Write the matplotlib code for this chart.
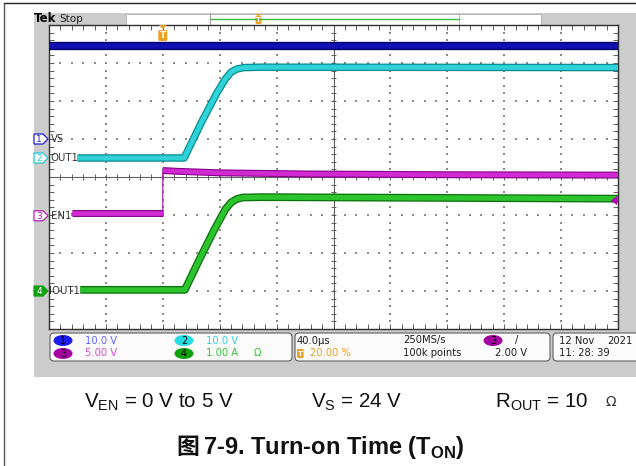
import matplotlib
matplotlib.use("Agg")
import matplotlib.pyplot as plt
import matplotlib.patheffects as pe
from matplotlib.patches import Rectangle, FancyBboxPatch, Ellipse, Polygon
from matplotlib.collections import LineCollection
import numpy as np

# ---------------- data ----------------
t_min, t_max = -80.0, 320.0          # us (40 us/div, trigger at 20 %)
ch_names = ["VS", "OUT1", "EN1", "IOUT1"]
ch_scale = [10.0, 10.0, 5.0, 1.0]     # V/div, V/div, V/div, A/div
ch_offset = [1.0, 0.5, -1.02, -3.0]   # ground marker position (div from centre)

vs_t = [-80, 320]
vs_v = [24.5, 24.5]

out_t = [-60, 15, 28, 38, 44, 48, 52, 57, 70, 320]
out_v = [0.0, 0.0, 10.0, 17.1, 20.8, 22.6, 23.4, 23.8, 23.9, 23.8]

en_t = [-64, 0, 0, 10, 40, 100, 200, 320]
en_v = [0.3, 0.3, 5.95, 5.85, 5.65, 5.5, 5.4, 5.35]

iout_t = [-58, 15.5, 26, 36, 44, 48, 52, 56, 70, 320]
iout_a = [0.03, 0.03, 0.85, 1.6, 2.15, 2.33, 2.42, 2.46, 2.47, 2.43]

trig_level_v = 2.0

# ---------------- figure ----------------
W, H = 636, 466
plt.rcParams['mathtext.fontset'] = 'custom'
plt.rcParams['mathtext.rm'] = 'Liberation Sans'
plt.rcParams['mathtext.bf'] = 'Liberation Sans:bold'

fig = plt.figure(figsize=(W / 100, H / 100), dpi=100)
bg = fig.add_axes([0, 0, 1, 1])
bg.set_xlim(0, W)
bg.set_ylim(H, 0)
bg.axis('off')

GRAY = '#cccccc'
# outer page frame
bg.plot([4, W], [2.5, 2.5], color='#222222', lw=1.0)
bg.plot([4, 4], [2.5, H], color='#555555', lw=1.0)

# scope screen background
bg.add_patch(Rectangle((34, 13), W - 34, 364, facecolor=GRAY, edgecolor='none'))
# top status bar
bg.add_patch(Rectangle((126, 14), 415, 10.5, facecolor='white', edgecolor='#b0b0b0', lw=0.6))
bg.plot([459, 459], [14, 24.5], color='#b0b0b0', lw=0.6)
bg.plot([210, 459], [18.5, 18.5], color='#3cb83c', lw=1.0)
bg.plot([210, 210], [14, 24.5], color='#a0a0a0', lw=0.8)
bg.add_patch(FancyBboxPatch((255.5, 16), 6, 8, boxstyle='round,pad=0,rounding_size=1.2',
                            facecolor='#f0a020', edgecolor='none'))
bg.add_patch(Polygon([[255.5, 14], [261.5, 14], [258.5, 16.5]], closed=True,
                     facecolor='#f0a020', edgecolor='none'))
bg.text(258.5, 20.5, 'T', color='white', fontsize=5, fontweight='bold', ha='center', va='center')
bg.text(34, 19, 'Tek', fontsize=8.5, fontweight='bold', color='black', va='center', ha='left')
bg.text(59, 19, 'Stop', fontsize=7.5, color='#202020', va='center', ha='left')

# ---------------- scope graticule axes ----------------
PX0, PX1, PY0, PY1 = 49, 618, 25, 329
sc = fig.add_axes([PX0 / W, 1 - PY1 / H, (PX1 - PX0) / W, (PY1 - PY0) / H])
sc.set_xlim(t_min, t_max)
sc.set_ylim(-4, 4)
sc.set_facecolor('white')
for s in sc.spines.values():
    s.set_color('#303030')
    s.set_linewidth(1.0)
sc.set_xticks([])
sc.set_yticks([])

xdiv = (t_max - t_min) / 10.0
# dotted grid
dots_x, dots_y = [], []
for i in range(1, 10):
    if i == 5:
        continue
    x = t_min + i * xdiv
    for k in range(1, 40):
        dots_x.append(x)
        dots_y.append(-4 + 0.2 * k)
for j in range(1, 8):
    if j == 4:
        continue
    y = -4 + j
    for k in range(1, 50):
        dots_x.append(t_min + k * xdiv / 5)
        dots_y.append(y)
sc.scatter(dots_x, dots_y, s=0.6, color='#8a8a8a', marker='s', linewidths=0, zorder=1)

# centre lines
sc.axhline(0, color='#606060', lw=0.8, zorder=1)
sc.axvline(t_min + 5 * xdiv, color='#606060', lw=0.8, zorder=1)
segs = []
tx = xdiv / 5 * 0.2
ty = 0.07
for k in range(1, 50):
    x = t_min + k * xdiv / 5
    segs.append([(x, -ty), (x, ty)])
    segs.append([(x, 4), (x, 4 - 2 * ty)])
    segs.append([(x, -4), (x, -4 + 2 * ty)])
for k in range(1, 40):
    y = -4 + 0.2 * k
    xc = t_min + 5 * xdiv
    segs.append([(xc - tx, y), (xc + tx, y)])
    segs.append([(t_min, y), (t_min + 2 * tx, y)])
    segs.append([(t_max, y), (t_max - 2 * tx, y)])
sc.add_collection(LineCollection(segs, colors='#606060', linewidths=0.7, zorder=1))


def to_div(vals, idx):
    return np.asarray(vals, dtype=float) / ch_scale[idx] + ch_offset[idx]


def trace(t, v, idx, core, edge, lw=3.6, elw=5.4):
    sc.plot(t, to_div(v, idx), color=core, lw=lw, solid_capstyle='butt',
            solid_joinstyle='round', zorder=3,
            path_effects=[pe.Stroke(linewidth=elw, foreground=edge), pe.Normal()])


trace(vs_t, vs_v, 0, '#1010b0', '#00006a', lw=4.0, elw=6.0)
trace(out_t, out_v, 1, '#2ed2d8', '#078c90', lw=3.6, elw=5.4)
sc.plot(en_t, to_div(en_v, 2), color='#a020a0', lw=0.9, zorder=3)
trace(en_t[:2], en_v[:2], 2, '#d22ad2', '#86008a', lw=3.4, elw=5.0)
trace(en_t[2:], en_v[2:], 2, '#d22ad2', '#86008a', lw=3.4, elw=5.0)
trace(iout_t, iout_a, 3, '#2cc42c', '#0c6e0c', lw=3.8, elw=5.6)

# trigger level arrow (CH3) at right edge
yl = trig_level_v / ch_scale[2] + ch_offset[2]
sc.add_patch(Polygon([[t_max - 0.5, yl + 0.12], [t_max - 0.5, yl - 0.12], [t_max - 5, yl]],
                     closed=True, facecolor='#b000b0', edgecolor='none', zorder=4, clip_on=False))

# ---------------- overlay (labels over the graticule) ----------------
ov = fig.add_axes([0, 0, 1, 1])
ov.set_xlim(0, W)
ov.set_ylim(H, 0)
ov.axis('off')
ov.patch.set_alpha(0)

tx_px = PX0 + (0 - t_min) / (t_max - t_min) * (PX1 - PX0)
ov.add_patch(Polygon([[tx_px - 4, 25], [tx_px + 4, 25], [tx_px, 29]], closed=True,
                     facecolor='#f0a020', edgecolor='none'))
ov.add_patch(FancyBboxPatch((tx_px - 4.5, 30), 9, 11, boxstyle='round,pad=0,rounding_size=1.5',
                            facecolor='#f0a020', edgecolor='none'))
ov.text(tx_px, 35.7, 'T', color='white', fontsize=6.5, fontweight='bold',
        ha='center', va='center')

marker_col = ['#2020d0', '#20c8d0', '#b020b0', '#10a010']
label_x = [51, 50, 51, 49.5]
for i in range(4):
    ypx = 177 - ch_offset[i] * 38
    poly = [[34, ypx - 5], [43, ypx - 5], [48, ypx], [43, ypx + 5], [34, ypx + 5]]
    filled = (i == 3)
    ov.add_patch(Polygon(poly, closed=True,
                         facecolor=marker_col[i] if filled else 'white',
                         edgecolor=marker_col[i], lw=0.9))
    ov.text(39, ypx + 0.3, str(i + 1), color='white' if filled else marker_col[i],
            fontsize=6.5, ha='center', va='center')
    ov.text(label_x[i], ypx, ch_names[i], color='#303030', fontsize=7.3,
            ha='left', va='center')

# ---------------- bottom information panel ----------------
for (x0, x1) in [(50, 292), (295, 550), (553, 640)]:
    bg.add_patch(FancyBboxPatch((x0, 333), x1 - x0, 28, boxstyle='round,pad=0,rounding_size=4',
                                facecolor='#fbfbfb', edgecolor='#606060', lw=0.8))
r1, r2 = 340.5, 353.5
FS = 7.2


def badge(x, y, n, col):
    bg.add_patch(Ellipse((x, y), 19, 11, facecolor=col, edgecolor='none'))
    bg.text(x, y + 0.3, n, fontsize=7, color='black', ha='center', va='center')


badge(63, r1, '1', '#1c1cf0')
bg.text(85, r1, '10.0 V', fontsize=FS, color='#6464ff', va='center')
badge(63, r2, '3', '#a400a4')
bg.text(85, r2, '5.00 V', fontsize=FS, color='#d050d0', va='center')
badge(184, r1, '2', '#28dce4')
bg.text(206, r1, '10.0 V', fontsize=FS, color='#38d4dc', va='center')
badge(184, r2, '4', '#10a010')
bg.text(206, r2, '1.00 A', fontsize=FS, color='#38c038', va='center')
bg.text(254, r2, 'Ω', fontsize=FS, color='#38c038', va='center')

bg.text(297, r1, '40.0µs', fontsize=FS, color='#202020', va='center')
bg.add_patch(FancyBboxPatch((297, r2 - 4.5), 6.5, 9, boxstyle='round,pad=0,rounding_size=1',
                            facecolor='#f0a020', edgecolor='none'))
bg.text(300.2, r2, 'T', fontsize=5, color='white', fontweight='bold', ha='center', va='center')
bg.text(310, r2, '20.00 %', fontsize=FS, color='#f0a020', va='center')
bg.text(403, r1, '250MS/s', fontsize=FS, color='#202020', va='center')
bg.text(403, r2, '100k points', fontsize=FS, color='#202020', va='center')
badge(493, r1, '3', '#a400a4')
bg.text(517, r1, '/', fontsize=FS, color='#202020', va='center', ha='center')
bg.text(527, r2, '2.00 V', fontsize=FS, color='#202020', va='center', ha='right')
bg.text(559, r1, '12 Nov', fontsize=FS, color='#202020', va='center')
bg.text(633, r1, '2021', fontsize=FS, color='#202020', va='center', ha='right')
bg.text(559, r2, '11: 28: 39', fontsize=FS, color='#202020', va='center')

# ---------------- caption ----------------
CFS = 14.8
bg.text(83.5, 407, r'V$_{\mathrm{EN}}$ = 0 V to 5 V', fontsize=CFS, family='Liberation Sans',
        va='baseline', ha='left', color='#111111')
bg.text(311, 407, r'V$_{\mathrm{S}}$ = 24 V', fontsize=CFS, family='Liberation Sans',
        va='baseline', ha='left', color='#111111')
bg.text(495, 407, r'R$_{\mathrm{OUT}}$ = 10', fontsize=CFS, family='Liberation Sans',
        va='baseline', ha='left', color='#111111')
bg.text(605, 406, 'Ω', fontsize=10, family='DejaVu Sans', va='baseline', ha='left', color='#333333')

fig.canvas.draw()
rend = fig.canvas.get_renderer()
t1 = bg.text(176, 454, '图', fontsize=16.5, family=['Noto Sans CJK SC', 'DejaVu Sans'],
             fontweight='bold', va='baseline', ha='left', color='#111111')
w1 = t1.get_window_extent(rend).width
bg.text(176 + w1 + 4, 454, r'7-9. Turn-on Time (T$_{\mathbf{ON}}$)', fontsize=17,
        family='Liberation Sans', fontweight='bold', va='baseline', ha='left', color='#111111')

fig.savefig('out.png', dpi=100)
